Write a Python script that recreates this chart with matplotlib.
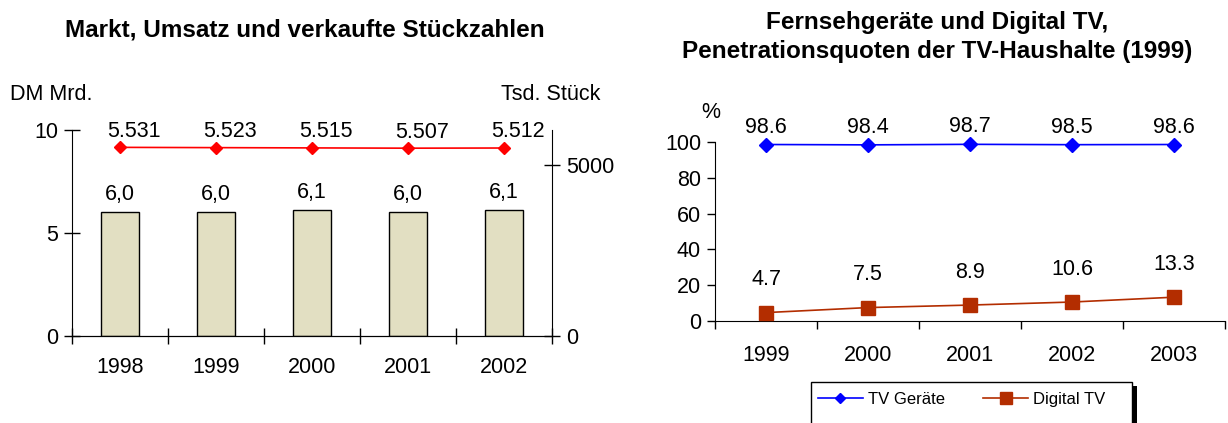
import matplotlib
matplotlib.use("Agg")
import matplotlib.pyplot as plt
from matplotlib.patches import Rectangle

plt.rcParams['font.family'] = ['Liberation Sans', 'DejaVu Sans']

# linkes Diagramm
jahre_l = ['1998', '1999', '2000', '2001', '2002']
umsatz = [6.0, 6.0, 6.1, 6.0, 6.1]            # DM Mrd.
stueck = [5531, 5523, 5515, 5507, 5512]       # Tsd. Stück

# rechtes Diagramm
jahre_r = ['1999', '2000', '2001', '2002', '2003']
tv_geraete = [98.6, 98.4, 98.7, 98.5, 98.6]
digital_tv = [4.7, 7.5, 8.9, 10.6, 13.3]

W, H = 1228, 423
fig = plt.figure(figsize=(W / 100, H / 100), dpi=100)
fs = 15.5
tfs = 17.5

# ---------- links ----------
ax = fig.add_axes([72 / W, 1 - 336 / H, 480 / W, 206 / H])
x = list(range(len(jahre_l)))
ax.bar(x, umsatz, width=0.4, color='#E2DFC2', edgecolor='black', linewidth=1.0, zorder=2)
for xi, v in zip(x, umsatz):
    ax.annotate(f"{v:.1f}".replace('.', ','), (xi, v), xytext=(0, 5), textcoords='offset points',
                ha='center', va='bottom', fontsize=fs)
ax.set_xlim(-0.5, 4.5)
ax.set_ylim(0, 10)
ax.set_yticks([0, 5, 10])
ax.set_xticks(x)
ax.set_xticklabels(jahre_l, fontsize=fs)
ax.set_xticks([i - 0.5 for i in range(6)], minor=True)
ax.tick_params(axis='x', which='major', length=0, pad=15)
ax.tick_params(axis='x', which='minor', direction='inout', length=11, width=1)
ax.tick_params(axis='y', direction='inout', length=12, width=1, labelsize=fs, pad=4)
ax.spines['top'].set_visible(False)
ax.spines['right'].set_visible(False)

ax2 = ax.twinx()
ax2.plot(x, stueck, color='#FF0000', marker='D', markersize=6, linewidth=1.2, clip_on=False, zorder=3)
for xi, v in zip(x, stueck):
    ax2.annotate(f"{v:,}".replace(',', '.'), (xi, v), xytext=(10, 4), textcoords='offset points',
                 ha='center', va='bottom', fontsize=fs)
ax2.set_ylim(0, 6040)
ax2.set_yticks([0, 5000])
ax2.tick_params(axis='y', direction='inout', length=12, width=1, labelsize=fs, pad=4)
ax2.spines['top'].set_visible(False)
ax2.spines['left'].set_visible(False)

fig.text(305 / W, 1 - 30 / H, 'Markt, Umsatz und verkaufte Stückzahlen', ha='center', va='center',
         fontsize=tfs, fontweight='bold')
fig.text(10 / W, 1 - 95 / H, 'DM Mrd.', ha='left', va='center', fontsize=fs)
fig.text(600 / W, 1 - 95 / H, 'Tsd. Stück', ha='right', va='center', fontsize=fs)

# ---------- rechts ----------
bx = fig.add_axes([715 / W, 1 - 321 / H, 510 / W, 179 / H])
xr = list(range(len(jahre_r)))
bx.plot(xr, tv_geraete, color='#0000FF', marker='D', markersize=7, linewidth=1.2,
        clip_on=False, zorder=3, label='TV Geräte')
bx.plot(xr, digital_tv, color='#B32D00', marker='s', markersize=10, linewidth=1.2,
        clip_on=False, zorder=3, label='Digital TV')
for xi, v in zip(xr, tv_geraete):
    bx.annotate(f"{v:.1f}", (xi, v), xytext=(0, 5), textcoords='offset points',
                ha='center', va='bottom', fontsize=fs)
for xi, v in zip(xr, digital_tv):
    bx.annotate(f"{v:.1f}", (xi, v), xytext=(0, 16), textcoords='offset points',
                ha='center', va='bottom', fontsize=fs)
bx.set_xlim(-0.5, 4.5)
bx.set_ylim(0, 100)
bx.set_yticks(range(0, 101, 20))
bx.set_xticks(xr)
bx.set_xticklabels(jahre_r, fontsize=fs)
bx.set_xticks([i - 0.5 for i in range(6)], minor=True)
bx.tick_params(axis='x', which='major', length=0, pad=17)
bx.tick_params(axis='x', which='minor', direction='out', length=6, width=1)
bx.tick_params(axis='y', direction='out', length=6, width=1, labelsize=fs, pad=4)
bx.spines['top'].set_visible(False)
bx.spines['right'].set_visible(False)

fig.text(937 / W, 1 - 37 / H, 'Fernsehgeräte und Digital TV,\nPenetrationsquoten der TV-Haushalte (1999)',
         ha='center', va='center', fontsize=tfs, fontweight='bold', linespacing=1.3)
fig.text(711 / W, 1 - 112 / H, '%', ha='center', va='center', fontsize=fs)

# Legendenrahmen mit schwarzem Schatten rechts
fig.patches.append(Rectangle((1132 / W, 0), 5 / W, 1 - 386 / H, transform=fig.transFigure,
                             facecolor='black', edgecolor='none', zorder=1))
fig.patches.append(Rectangle((811 / W, -0.01), 321 / W, 1 - 382 / H + 0.01, transform=fig.transFigure,
                             facecolor='white', edgecolor='black', linewidth=1.0, zorder=2))
leg = fig.legend(loc='upper left', bbox_to_anchor=(811 / W, 1 - 385 / H),
                 ncol=2, fontsize=12, frameon=False, handlelength=2.7, handletextpad=0.3,
                 columnspacing=2.3, borderpad=0.4, borderaxespad=0, markerscale=0.8)

fig.savefig('out.png', dpi=100)
